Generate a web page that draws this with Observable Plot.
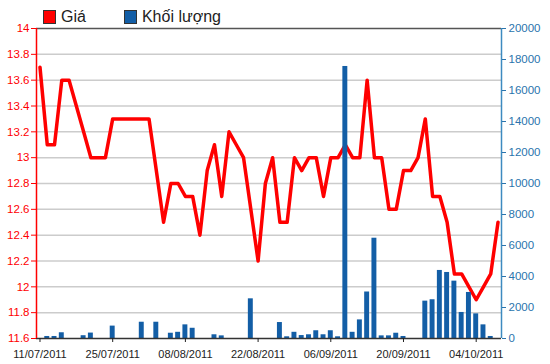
<!DOCTYPE html>
<html><head><meta charset="utf-8">
<script src="https://cdn.jsdelivr.net/npm/d3@7"></script>
<script src="https://cdn.jsdelivr.net/npm/@observablehq/plot@0.6"></script>
<style>
body{margin:0;background:#fff;font-family:"Liberation Sans",Arial,sans-serif;}
#wrap{position:relative;width:550px;height:364px;}
.legend{position:absolute;top:8px;left:43px;display:flex;align-items:center;font-size:16px;color:#222;line-height:18px;}
.legend .sw{display:inline-block;width:11px;height:12px;border:1px solid #333;margin-right:5px;}
.legend .item{display:flex;align-items:center;margin-right:38px;}
</style></head><body><div id="wrap"><div class="legend"><span class="item"><span class="sw" style="background:#ff0000"></span>Giá</span><span class="item"><span class="sw" style="background:#135ea6"></span>Khối lượng</span></div></div>
<script>
const dates = [
 "11/07/2011","12/07/2011","13/07/2011","14/07/2011","15/07/2011","18/07/2011","19/07/2011","20/07/2011","21/07/2011","22/07/2011",
 "25/07/2011","26/07/2011","27/07/2011","28/07/2011","29/07/2011",
 "01/08/2011","02/08/2011","03/08/2011","04/08/2011","05/08/2011","08/08/2011","09/08/2011","10/08/2011","11/08/2011","12/08/2011",
 "15/08/2011","16/08/2011","17/08/2011","18/08/2011","19/08/2011","22/08/2011","23/08/2011","24/08/2011","25/08/2011","26/08/2011",
 "29/08/2011","30/08/2011","31/08/2011",
 "01/09/2011","05/09/2011","06/09/2011","07/09/2011","08/09/2011","09/09/2011","12/09/2011","13/09/2011","14/09/2011","15/09/2011",
 "16/09/2011","19/09/2011","20/09/2011","21/09/2011","22/09/2011","23/09/2011","26/09/2011","27/09/2011","28/09/2011","29/09/2011","30/09/2011",
 "03/10/2011","04/10/2011","05/10/2011","06/10/2011","07/10/2011"
];
const price = [
 13.7,13.1,13.1,13.6,13.6,13.4,13.2,13.0,13.0,13.0,
 13.3,13.3,13.3,13.3,13.3,13.3,12.9,12.5,12.8,12.8,
 12.7,12.7,12.4,12.9,13.1,12.7,13.2,13.1,13.0,12.6,
 12.2,12.8,13.0,12.5,12.5,13.0,12.9,13.0,13.0,12.7,
 13.0,13.0,13.1,13.0,13.0,13.6,13.0,13.0,12.6,12.6,
 12.9,12.9,13.0,13.3,12.7,12.7,12.5,12.1,12.1,12.0,
 11.9,12.0,12.1,12.5
];
const volume = [
 0,130,130,370,0,0,180,350,0,0,
 800,0,0,0,1050,0,1050,0,340,400,
 880,660,0,0,240,170,0,0,0,2560,
 0,0,0,1030,110,400,190,240,500,240,
 500,110,17550,400,1200,3000,6470,170,170,340,
 130,0,0,2410,2500,4390,4260,3700,1680,2970,
 1590,880,130,0
];
const xTickLabels = ["11/07/2011","25/07/2011","08/08/2011","22/08/2011","06/09/2011","20/09/2011","04/10/2011"];
const priceTicks = [11.6,11.8,12,12.2,12.4,12.6,12.8,13,13.2,13.4,13.6,13.8,14];
const volumeTicks = [0,2000,4000,6000,8000,10000,12000,14000,16000,18000,20000];

const P0 = 11.6, P1 = 14, V1 = 20000;
const v2p = v => P0 + v / V1 * (P1 - P0);
const data = dates.map((d, i) => ({i, date: d, price: price[i], volume: volume[i]}));
const xTicks = xTickLabels.map(l => dates.indexOf(l));
const X0 = -0.48, X1 = dates.length - 1 + 0.48;

const chart = Plot.plot({
  width: 550, height: 364,
  marginLeft: 36, marginRight: 49, marginTop: 28, marginBottom: 26,
  style: {fontFamily: '"Liberation Sans", Arial, sans-serif', fontSize: "11px", background: "transparent", overflow: "visible"},
  x: {domain: [X0, X1], label: null},
  y: {domain: [P0, P1], label: null},
  marks: [
    Plot.ruleY(priceTicks.slice(1, -1), {stroke: "#cccccc", strokeWidth: 1.5}),
    Plot.ruleY([P1], {stroke: "#555", strokeWidth: 1.5}),
    Plot.lineY(data, {x: "i", y: "price", stroke: "#ff0000", strokeWidth: 3.5, strokeLinejoin: "round"}),
    Plot.rectY(data.filter(d => d.volume > 0), {x1: d => d.i - 0.34, x2: d => d.i + 0.34, y1: P0, y2: d => v2p(d.volume), fill: "#135ea6"}),
    Plot.ruleY([P0], {stroke: "#333", strokeWidth: 1.5}),
    Plot.ruleX([X0], {stroke: "#ff0000", strokeWidth: 1.5}),
    Plot.ruleX([X1], {stroke: "#3d8ac0", strokeWidth: 1.5}),
    Plot.axisY(priceTicks, {anchor: "left", tickFormat: d => String(+d.toFixed(1)), color: "#ff0000", tickSize: 5, tickPadding: 2, fontSize: 11.5}),
    Plot.axisY(volumeTicks.map(v2p), {anchor: "right", tickFormat: d => String(Math.round((d - P0) / (P1 - P0) * V1)), color: "#2a74ad", tickSize: 4, tickPadding: 3, fontSize: 11.5}),
    Plot.axisX(xTicks, {anchor: "bottom", tickFormat: i => dates[i], tickSize: 4, tickPadding: 8, color: "#222", fontSize: 11})
  ]
});
document.getElementById("wrap").prepend(chart);
</script>
</body></html>
